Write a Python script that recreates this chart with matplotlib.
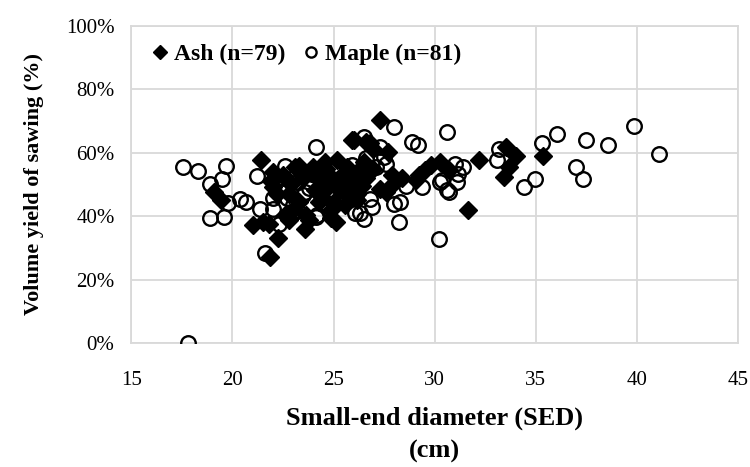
import numpy as np
import matplotlib.pyplot as plt
from matplotlib.ticker import FuncFormatter

# Ash logs (black diamonds): small-end diameter (cm), volume yield (%)
ash_sed = [19.1, 19.45, 21.4, 21.0, 21.5, 21.85, 22.0, 23.3, 22.0, 22.2,
           22.8, 22.8, 23.6, 23.8, 22.25, 25.1, 25.05, 27.3, 26.0, 26.8,
           27.7, 25.15, 30.25, 32.2, 33.55, 34.0, 33.7, 33.45, 29.8, 29.5,
           29.25, 30.7, 29.1, 28.4, 27.9, 27.95, 27.3, 27.6, 31.65, 35.35,
           26.6, 26.95, 23.1, 24.0, 24.65, 25.65, 26.15, 26.95, 23.5, 24.3,
           25.0, 25.8, 26.6, 24.1, 24.65, 25.3, 26.15, 23.3, 24.3, 25.0,
           25.55, 26.15, 23.65, 24.9, 22.5, 21.9, 22.9, 23.9, 25.4, 24.6,
           26.4, 25.8, 24.9, 22.6, 21.8, 26.5, 24.4, 25.9, 23.0]
ash_yield = [47.7, 45.0, 57.6, 37.2, 38.2, 27.2, 54.0, 55.7, 49.2, 47.1,
             47.1, 38.7, 36.1, 38.7, 33.0, 38.2, 44.1, 70.2, 63.9, 62.9,
             60.3, 57.6, 57.1, 57.6, 61.8, 58.9, 55.5, 52.4, 56.1, 54.5,
             52.9, 54.5, 51.3, 51.9, 52.9, 50.3, 48.7, 47.7, 42.1, 58.9,
             63.4, 61.3, 55.5, 55.5, 55.0, 55.5, 54.0, 55.0, 51.9, 51.9,
             51.3, 50.8, 51.9, 48.2, 48.7, 48.2, 47.1, 44.5, 44.5, 44.5,
             43.5, 45.0, 40.3, 39.3, 53.0, 51.2, 50.0, 53.6, 53.0, 57.0,
             49.5, 46.0, 42.0, 40.5, 37.5, 57.0, 46.5, 63.9, 42.0]

# Maple logs (open circles)
maple_sed = [17.55, 18.3, 19.7, 18.9, 19.5, 19.8, 18.9, 19.6, 20.4, 20.65,
             21.2, 21.35, 21.6, 24.15, 22.6, 22.5, 23.25, 22.0, 22.7, 23.5,
             22.0, 23.1, 24.15, 22.3, 24.65, 28.0, 30.6, 28.9, 29.2, 26.5,
             27.3, 26.6, 27.1, 31.0, 31.4, 33.2, 33.1, 34.4, 30.25, 30.7,
             31.1, 31.15, 29.4, 28.0, 28.3, 28.25, 30.2, 26.05, 26.3, 26.5,
             36.05, 35.3, 37.5, 38.55, 39.85, 41.1, 37.0, 37.35, 34.95, 30.6,
             30.35, 17.8, 23.2, 23.0, 24.2, 23.2, 22.3, 24.5, 25.5, 26.2,
             27.6, 25.0, 23.8, 26.8, 26.9, 27.5, 25.9, 24.8, 28.6, 22.3, 23.6]
maple_yield = [55.4, 54.2, 55.7, 50.3, 51.6, 44.3, 39.5, 39.8, 45.4, 44.5,
               52.7, 42.4, 28.3, 61.8, 55.7, 51.9, 50.8, 45.6, 45.6, 46.6,
               42.4, 41.4, 39.8, 37.7, 43.5, 68.1, 66.4, 63.4, 62.4, 65.0,
               61.8, 58.2, 55.5, 56.6, 55.5, 61.3, 57.6, 49.2, 50.8, 47.7,
               50.8, 53.4, 49.2, 44.0, 44.5, 38.2, 32.7, 40.9, 40.9, 39.0,
               66.0, 63.2, 63.9, 62.3, 68.3, 59.5, 55.5, 51.6, 51.6, 48.2,
               51.3, 0.0, 50.8, 43.5, 40.3, 41.9, 48.5, 53.0, 49.0, 52.5,
               56.5, 47.0, 49.0, 45.5, 43.0, 58.5, 56.0, 45.8, 49.5, 52.4, 47.7]

plt.rcParams['font.family'] = ['Liberation Serif', 'DejaVu Serif']

fig = plt.figure(figsize=(7.5, 4.67), dpi=100)
ax = fig.add_axes([0.175, 0.265, 0.809, 0.68])

ax.plot(ash_sed, ash_yield, linestyle='none', marker='D', ms=9.5,
        color='black', mec='black', label='Ash (n=79)', zorder=3)
ax.plot(maple_sed, maple_yield, linestyle='none', marker='o', ms=10.5,
        mfc='none', mec='black', mew=1.7, label='Maple (n=81)', zorder=3)

ax.set_xlim(15, 45)
ax.set_ylim(0, 100)
ax.set_xticks(np.arange(15, 46, 5))
ax.set_yticks(np.arange(0, 101, 20))
ax.yaxis.set_major_formatter(FuncFormatter(lambda v, p: '%d%%' % v))
ax.grid(True, color='#d9d9d9', linewidth=1.3)
ax.set_axisbelow(True)
for s in ax.spines.values():
    s.set_color('#d9d9d9')
    s.set_linewidth(1.3)
ax.tick_params(length=0, labelsize=15)
ax.tick_params(axis='x', pad=20)
ax.tick_params(axis='y', pad=12)

ax.set_xlabel('Small-end diameter (SED)\n(cm)', fontsize=19, fontweight='bold',
              linespacing=1.5, labelpad=12)
ax.set_ylabel('Volume yield of sawing (%)', fontsize=16, fontweight='bold',
              labelpad=16)

leg = ax.legend(loc='upper left', frameon=False, ncol=2,
                prop={'weight': 'bold', 'size': 17}, markerscale=0.7,
                handletextpad=0.1, columnspacing=0.6, handlelength=1.0,
                borderaxespad=0.3, bbox_to_anchor=(0.0, 0.995))

fig.savefig('out.png', dpi=100)
